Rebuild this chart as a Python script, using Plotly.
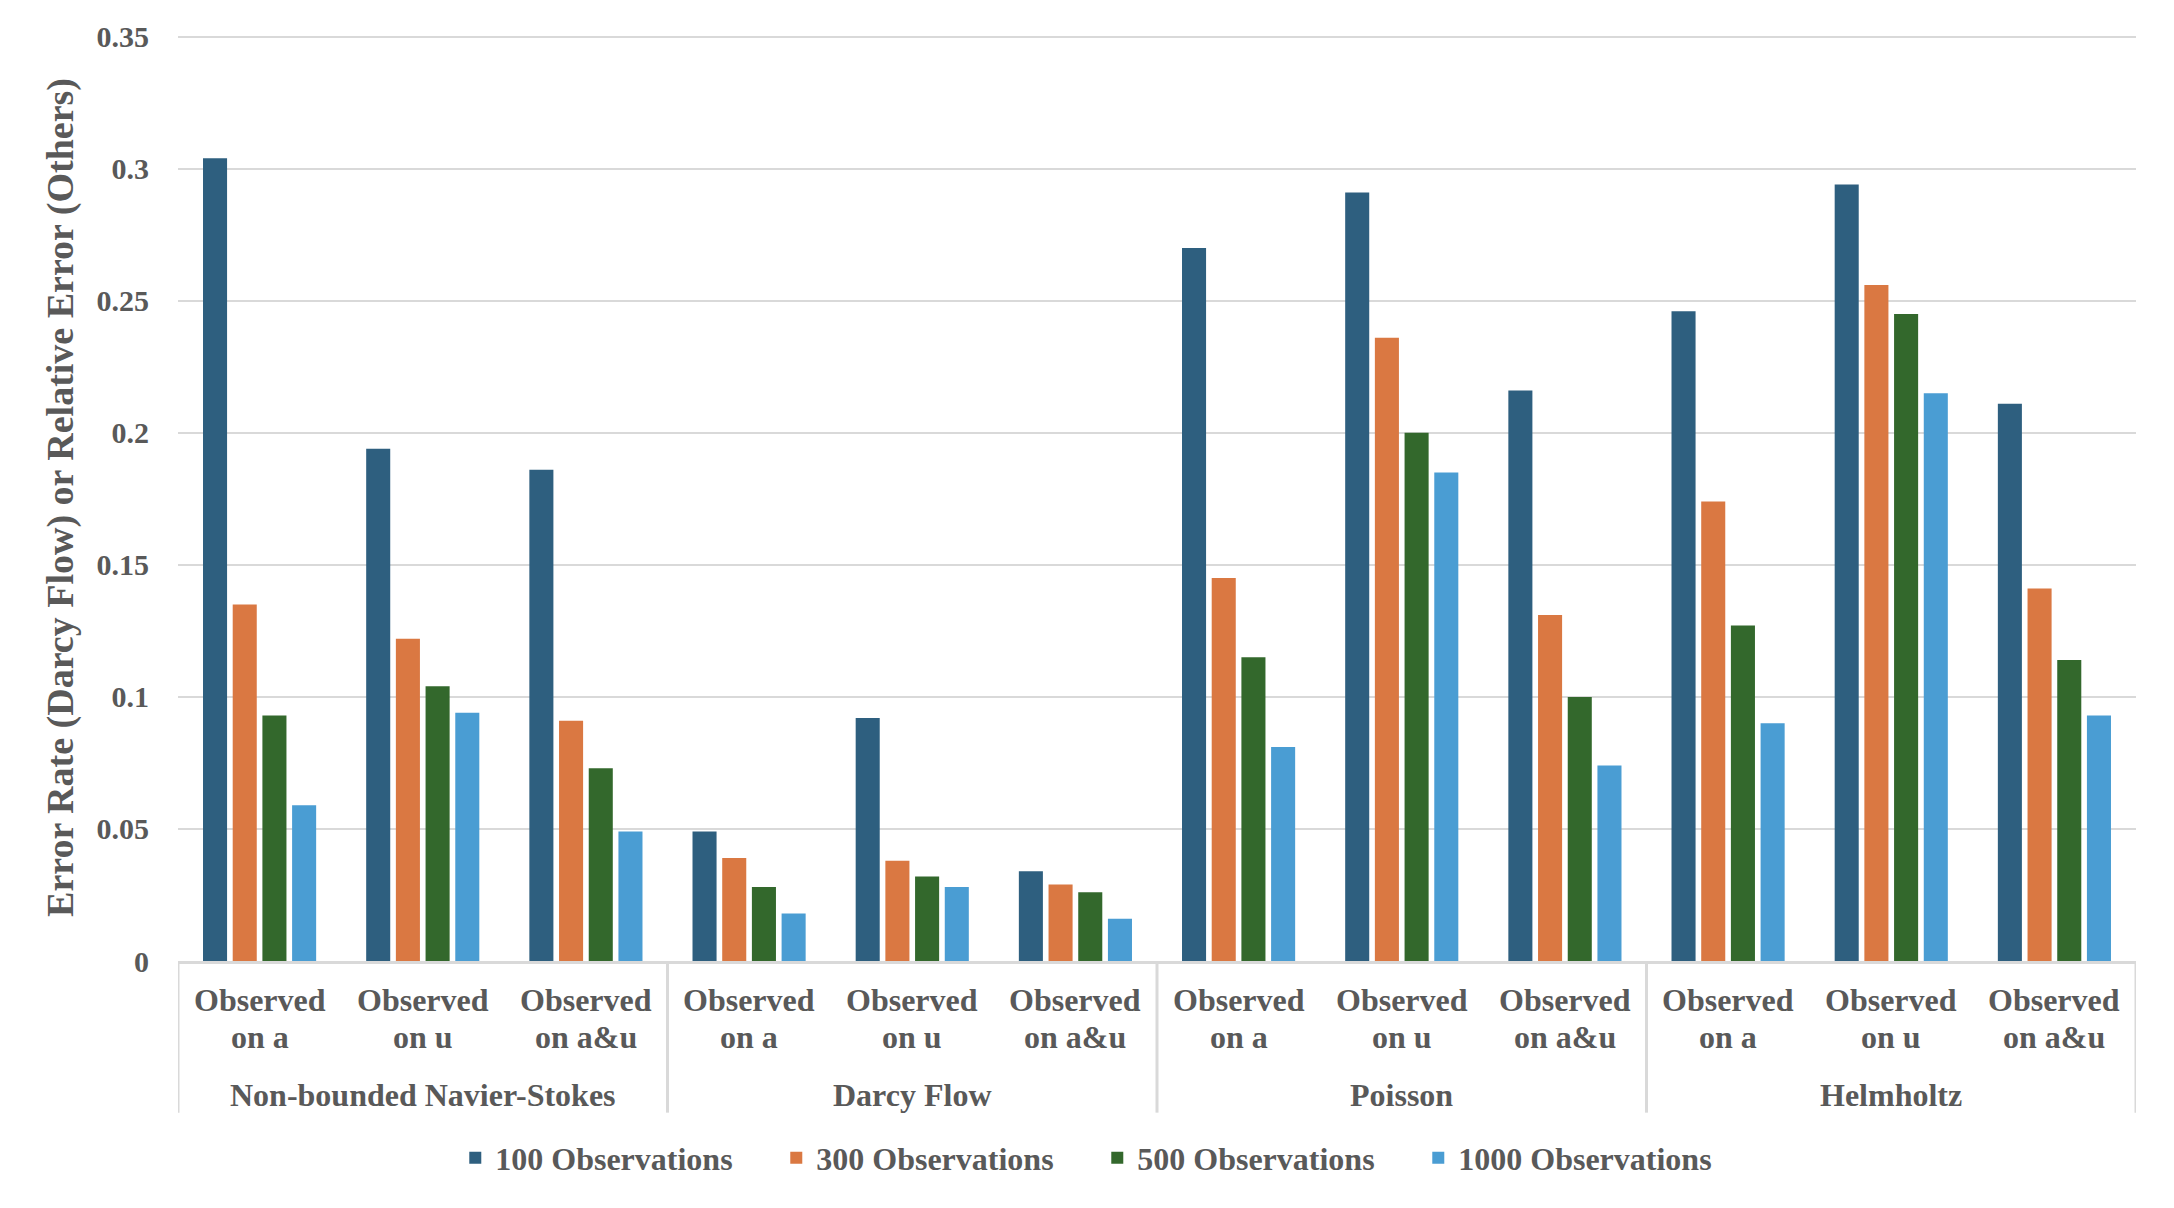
import plotly.graph_objects as go

groups = ["Non-bounded Navier-Stokes", "Darcy Flow", "Poisson", "Helmholtz"]
sub_line1 = ["Observed", "Observed", "Observed"]
sub_line2 = ["on a", "on u", "on a&u"]
series_names = ["100 Observations", "300 Observations", "500 Observations", "1000 Observations"]
colors = ["#2E5F7F", "#DA7842", "#33682C", "#4A9DD3"]

obs100 = [0.304, 0.194, 0.186, 0.049, 0.092, 0.034, 0.270, 0.291, 0.216, 0.246, 0.294, 0.211]
obs300 = [0.135, 0.122, 0.091, 0.039, 0.038, 0.029, 0.145, 0.236, 0.131, 0.174, 0.256, 0.141]
obs500 = [0.093, 0.104, 0.073, 0.028, 0.032, 0.026, 0.115, 0.200, 0.100, 0.127, 0.245, 0.114]
obs1000 = [0.059, 0.094, 0.049, 0.018, 0.028, 0.016, 0.081, 0.185, 0.074, 0.090, 0.215, 0.093]
values = [obs100, obs300, obs500, obs1000]

n_sub = len(sub_line2)
n_cat = len(groups) * n_sub
xpos = list(range(n_cat))

FONT = "Liberation Serif"
GREY = "#595959"
LINE = "#D9D9D9"

fig = go.Figure()
for name, col, vals in zip(series_names, colors, values):
    fig.add_trace(go.Bar(
        x=xpos, y=vals, name=name,
        marker=dict(color=col, line=dict(width=0)),
    ))

annotations = []
shapes = []
lab_font = dict(family=FONT, size=32, color=GREY, weight="bold")
for gi, g in enumerate(groups):
    for si in range(n_sub):
        i = gi * n_sub + si
        annotations.append(dict(x=i, xref="x", y=0, yref="paper", text=sub_line1[si],
                                showarrow=False, yanchor="middle", yshift=-39, font=lab_font))
        annotations.append(dict(x=i, xref="x", y=0, yref="paper", text=sub_line2[si],
                                showarrow=False, yanchor="middle", yshift=-76, font=lab_font))
    annotations.append(dict(x=gi * n_sub + (n_sub - 1) / 2, xref="x", y=0, yref="paper", text=g,
                            showarrow=False, yanchor="middle", yshift=-134, font=lab_font))
for b in range(len(groups) + 1):
    xb = b * n_sub - 0.5
    shapes.append(dict(type="line", xref="x", yref="paper", x0=xb, x1=xb, y0=0, y1=-0.1636,
                       line=dict(color=LINE, width=3)))

fig.update_layout(
    width=2166, height=1200,
    margin=dict(l=170, r=38, t=24, b=247),
    paper_bgcolor="white", plot_bgcolor="white",
    barmode="group", bargap=0.272, bargroupgap=0.19,
    font=dict(family=FONT, color=GREY, size=31, weight="bold"),
    legend=dict(
        orientation="h", x=0.4695, xanchor="center", y=-0.2125, yanchor="middle",
        font=dict(family=FONT, size=32, color=GREY, weight="bold"),
        entrywidth=276, entrywidthmode="pixels", traceorder="normal",
    ),
    showlegend=True,
    annotations=annotations,
    shapes=shapes,
)
fig.update_yaxes(
    range=[0, 0.351], tickvals=[0, 0.05, 0.1, 0.15, 0.2, 0.25, 0.3, 0.35],
    showgrid=True, gridcolor=LINE, gridwidth=2,
    zeroline=False, showline=False,
    tickfont=dict(family=FONT, size=30, color=GREY, weight="bold"),
    ticklabelstandoff=28,
    title=dict(text="Error Rate (Darcy Flow) or Relative Error (Others)",
               font=dict(family=FONT, size=38, color=GREY, weight="bold"), standoff=11),
)
fig.update_xaxes(
    range=[-0.5, n_cat - 0.5], showline=True, linecolor=LINE, linewidth=3,
    showticklabels=False, ticks="", showgrid=False, zeroline=False,
)

fig.write_html("out.html")
